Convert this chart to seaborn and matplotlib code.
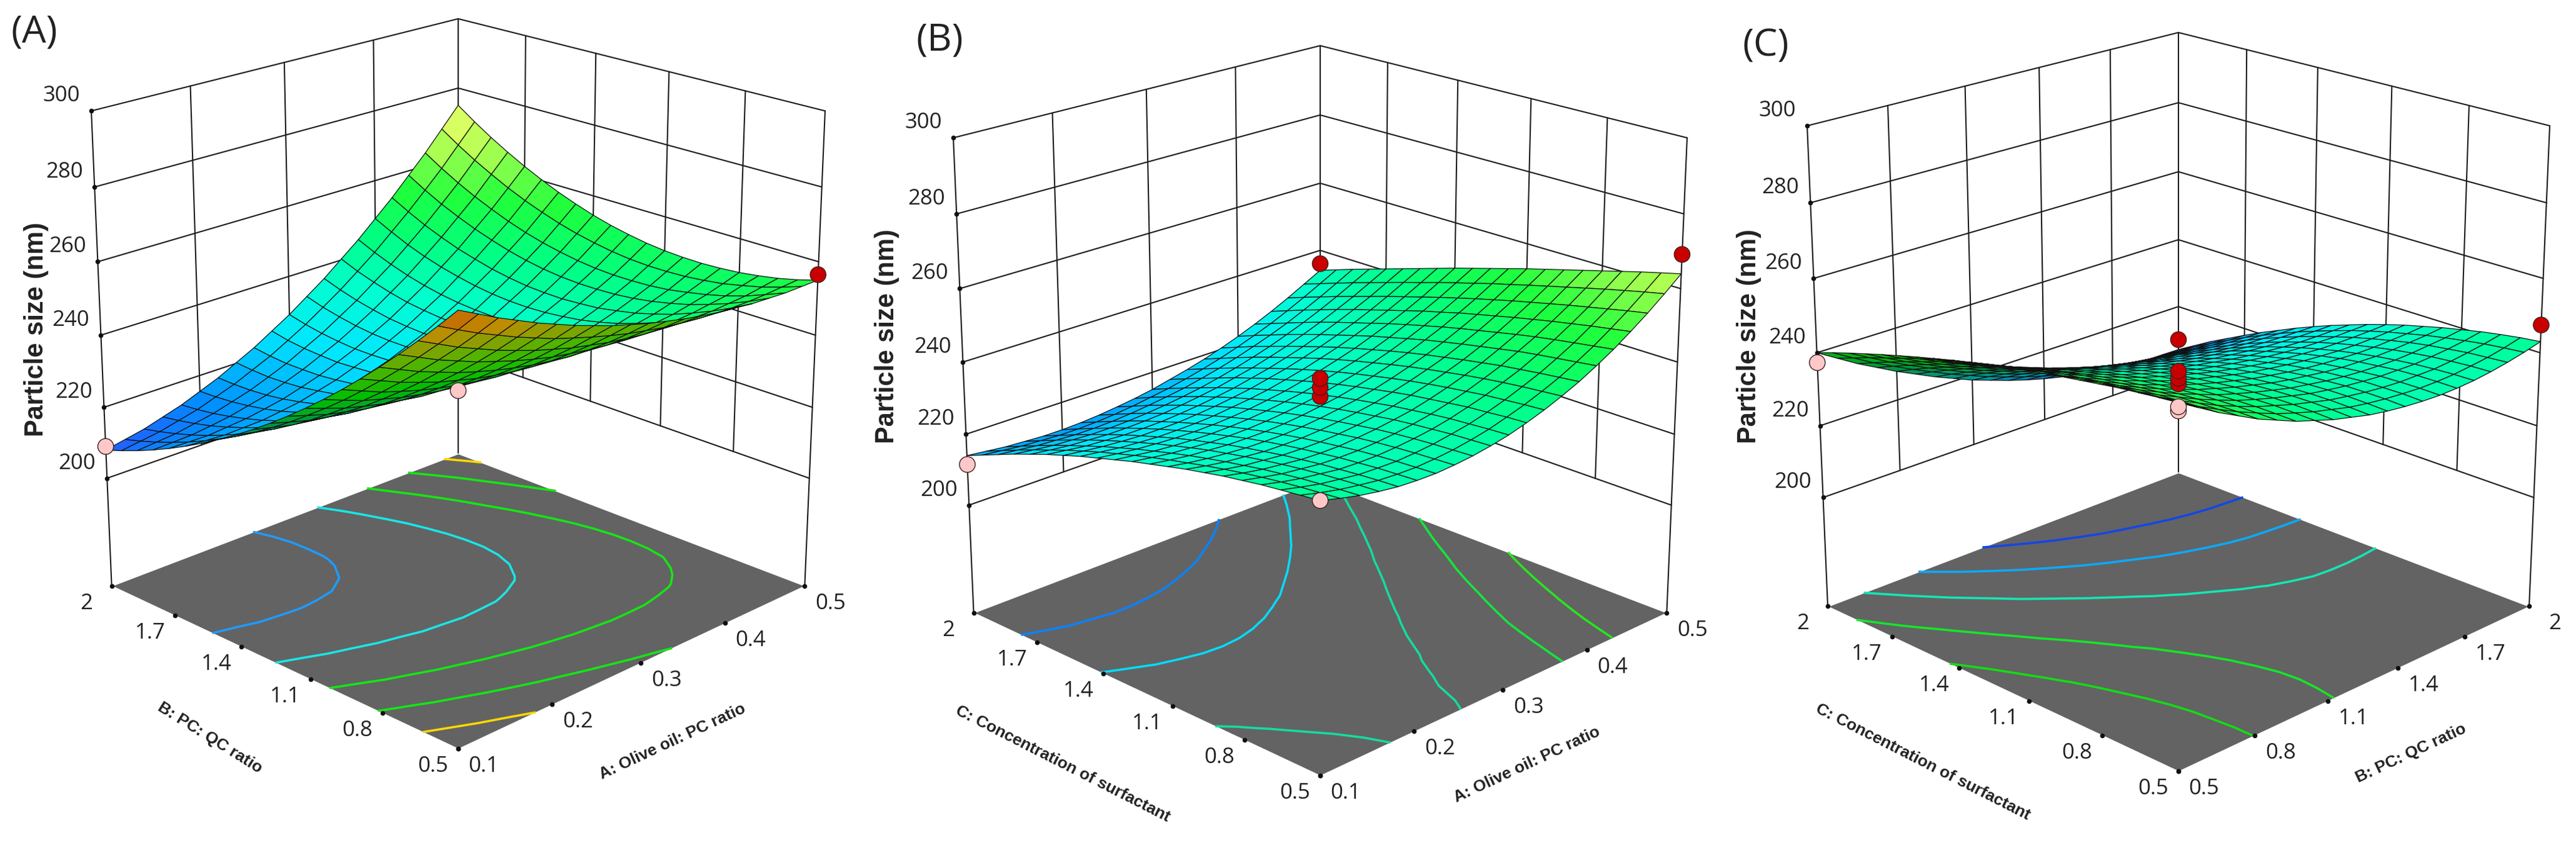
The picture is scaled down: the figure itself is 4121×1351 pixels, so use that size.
import numpy as np
import matplotlib
matplotlib.use('Agg')
import matplotlib.pyplot as plt
import seaborn as sns
from mpl_toolkits.mplot3d import proj3d

sns.set_theme(style='white')
plt.rcParams['font.family'] = ['Open Sans', 'DejaVu Sans']

W, H = 4121, 1351

# factor levels of the mesh
oil_levels = [0.1, 0.12, 0.14, 0.16, 0.18, 0.2, 0.22, 0.24, 0.26, 0.28, 0.3,
              0.32, 0.34, 0.36, 0.38, 0.4, 0.42, 0.44, 0.46, 0.48, 0.5]
ratio_levels = [0.5, 0.575, 0.65, 0.725, 0.8, 0.875, 0.95, 1.025, 1.1, 1.175, 1.25,
                1.325, 1.4, 1.475, 1.55, 1.625, 1.7, 1.775, 1.85, 1.925, 2.0]

oil_ticks = [0.1, 0.2, 0.3, 0.4, 0.5]
ratio_ticks = [0.5, 0.8, 1.1, 1.4, 1.7, 2.0]
ratio_tick_labels = ['0.5', '0.8', '1.1', '1.4', '1.7', '2']
size_ticks = [200, 220, 240, 260, 280, 300]

size_a = [
    [280.0, 274.5, 269.2, 264.1, 259.2, 254.5, 250.0, 245.7, 241.6, 237.7, 234.0, 230.5, 227.2, 224.1, 221.2, 218.5, 216.0, 213.7, 211.6, 209.7, 208.0],
    [277.4, 271.9, 266.7, 261.7, 256.9, 252.3, 247.9, 243.7, 239.8, 236.1, 232.5, 229.2, 226.1, 223.2, 220.6, 218.1, 215.9, 213.9, 212.1, 210.5, 209.1],
    [274.8, 269.4, 264.2, 259.3, 254.6, 250.1, 245.8, 241.8, 238.0, 234.5, 231.1, 228.0, 225.1, 222.4, 220.0, 217.8, 215.8, 214.1, 212.6, 211.3, 210.2],
    [272.5, 267.2, 262.1, 257.3, 252.7, 248.3, 244.2, 240.4, 236.7, 233.4, 230.2, 227.3, 224.6, 222.1, 219.9, 218.0, 216.3, 214.8, 213.6, 212.6, 211.8],
    [270.2, 265.0, 260.0, 255.3, 250.8, 246.6, 242.7, 239.0, 235.5, 232.3, 229.3, 226.6, 224.1, 221.9, 219.9, 218.2, 216.8, 215.6, 214.6, 213.9, 213.4],
    [268.2, 263.1, 258.2, 253.7, 249.3, 245.3, 241.5, 238.0, 234.7, 231.7, 228.9, 226.4, 224.1, 222.1, 220.4, 218.9, 217.7, 216.8, 216.1, 215.7, 215.5],
    [266.2, 261.2, 256.5, 252.1, 247.9, 244.0, 240.4, 237.1, 233.9, 231.1, 228.5, 226.3, 224.2, 222.4, 220.9, 219.7, 218.7, 218.0, 217.6, 217.5, 217.6],
    [264.5, 259.7, 255.1, 250.8, 246.8, 243.1, 239.7, 236.5, 233.6, 231.0, 228.6, 226.6, 224.7, 223.2, 221.9, 221.0, 220.2, 219.8, 219.6, 219.8, 220.2],
    [262.8, 258.2, 253.7, 249.6, 245.8, 242.3, 239.0, 236.0, 233.3, 230.9, 228.7, 226.9, 225.3, 224.1, 223.0, 222.3, 221.8, 221.7, 221.7, 222.1, 222.8],
    [261.4, 256.9, 252.7, 248.8, 245.1, 241.8, 238.7, 235.9, 233.5, 231.3, 229.3, 227.7, 226.4, 225.4, 224.5, 224.1, 223.8, 224.0, 224.3, 224.9, 225.9],
    [260.0, 255.7, 251.7, 248.0, 244.5, 241.4, 238.5, 235.9, 233.7, 231.7, 230.0, 228.6, 227.5, 226.7, 226.1, 225.9, 225.9, 226.3, 226.9, 227.8, 229.0],
    [258.9, 254.8, 251.0, 247.5, 244.3, 241.4, 238.7, 236.4, 234.4, 232.6, 231.1, 230.0, 229.1, 228.5, 228.2, 228.2, 228.5, 229.1, 230.0, 231.1, 232.6],
    [257.8, 253.9, 250.4, 247.1, 244.1, 241.4, 239.0, 236.9, 235.1, 233.6, 232.3, 231.4, 230.7, 230.4, 230.3, 230.6, 231.1, 232.0, 233.1, 234.5, 236.2],
    [257.0, 253.4, 250.1, 247.0, 244.3, 241.8, 239.7, 237.8, 236.3, 235.0, 234.0, 233.3, 232.9, 232.8, 233.0, 233.5, 234.2, 235.3, 236.7, 238.3, 240.3],
    [256.2, 252.9, 249.8, 247.0, 244.5, 242.3, 240.4, 238.8, 237.5, 236.4, 235.7, 235.3, 235.1, 235.3, 235.7, 236.4, 237.4, 238.7, 240.3, 242.2, 244.4],
    [255.7, 252.6, 249.9, 247.3, 245.1, 243.2, 241.5, 240.2, 239.1, 238.4, 237.9, 237.7, 237.8, 238.2, 238.9, 239.9, 241.1, 242.6, 244.4, 246.6, 249.0],
    [255.2, 252.4, 249.9, 247.7, 245.7, 244.1, 242.7, 241.7, 240.8, 240.4, 240.1, 240.2, 240.5, 241.2, 242.1, 243.4, 244.8, 246.6, 248.6, 251.0, 253.6],
    [255.0, 252.5, 250.3, 248.4, 246.7, 245.4, 244.3, 243.5, 243.0, 242.8, 242.8, 243.1, 243.7, 244.6, 245.8, 247.3, 249.0, 251.0, 253.2, 255.8, 258.7],
    [254.8, 252.7, 250.7, 249.1, 247.8, 246.8, 245.9, 245.4, 245.2, 245.2, 245.5, 246.1, 247.0, 248.1, 249.5, 251.2, 253.2, 255.4, 257.9, 260.7, 263.8],
    [254.9, 253.1, 251.5, 250.3, 249.2, 248.5, 248.0, 247.8, 247.8, 248.1, 248.7, 249.6, 250.7, 252.1, 253.8, 255.7, 257.9, 260.4, 263.1, 266.1, 269.4],
    [255.0, 253.5, 252.3, 251.4, 250.7, 250.3, 250.1, 250.2, 250.5, 251.1, 252.0, 253.1, 254.5, 256.2, 258.1, 260.3, 262.7, 265.4, 268.3, 271.5, 275.0],
]
size_b = [
    [240.0, 239.4, 238.8, 238.2, 237.4, 236.6, 235.6, 234.6, 233.4, 232.2, 231.0, 229.6, 228.2, 226.8, 225.2, 223.6, 221.8, 220.0, 218.0, 216.0, 214.0],
    [238.6, 238.1, 237.6, 237.0, 236.3, 235.5, 234.6, 233.6, 232.5, 231.4, 230.2, 228.9, 227.5, 226.1, 224.5, 222.9, 221.1, 219.3, 217.4, 215.4, 213.4],
    [237.4, 237.0, 236.5, 236.0, 235.3, 234.6, 233.7, 232.8, 231.8, 230.7, 229.5, 228.2, 226.9, 225.4, 223.9, 222.2, 220.5, 218.7, 216.8, 214.8, 212.8],
    [236.5, 236.2, 235.8, 235.3, 234.7, 234.0, 233.2, 232.3, 231.3, 230.3, 229.1, 227.8, 226.5, 225.0, 223.5, 221.9, 220.2, 218.4, 216.5, 214.5, 212.5],
    [235.8, 235.5, 235.1, 234.6, 234.1, 233.4, 232.7, 231.8, 230.9, 229.9, 228.7, 227.5, 226.2, 224.7, 223.2, 221.6, 219.9, 218.1, 216.2, 214.2, 212.2],
    [235.5, 235.2, 234.9, 234.4, 233.9, 233.2, 232.5, 231.7, 230.8, 229.8, 228.6, 227.4, 226.1, 224.7, 223.2, 221.6, 219.9, 218.1, 216.2, 214.2, 212.2],
    [235.4, 235.1, 234.8, 234.4, 233.9, 233.2, 232.5, 231.7, 230.8, 229.8, 228.7, 227.5, 226.2, 224.8, 223.3, 221.7, 220.1, 218.3, 216.4, 214.4, 212.4],
    [235.7, 235.4, 235.1, 234.7, 234.2, 233.6, 232.8, 232.0, 231.1, 230.1, 229.0, 227.8, 226.5, 225.1, 223.7, 222.1, 220.4, 218.7, 216.8, 214.8, 212.8],
    [236.2, 235.9, 235.6, 235.2, 234.7, 234.1, 233.3, 232.5, 231.6, 230.6, 229.5, 228.3, 227.0, 225.7, 224.2, 222.6, 221.0, 219.2, 217.4, 215.4, 213.4],
    [237.0, 236.7, 236.4, 235.9, 235.4, 234.8, 234.0, 233.2, 232.3, 231.3, 230.2, 229.0, 227.7, 226.3, 224.9, 223.3, 221.7, 219.9, 218.1, 216.2, 214.1],
    [238.0, 237.7, 237.3, 236.9, 236.3, 235.6, 234.9, 234.0, 233.1, 232.1, 231.0, 229.8, 228.5, 227.1, 225.7, 224.1, 222.5, 220.7, 218.9, 217.0, 215.0],
    [239.4, 239.1, 238.6, 238.2, 237.5, 236.8, 236.1, 235.2, 234.2, 233.2, 232.1, 230.9, 229.6, 228.2, 226.8, 225.2, 223.6, 221.8, 220.0, 218.1, 216.2],
    [241.0, 240.6, 240.1, 239.6, 238.9, 238.2, 237.4, 236.5, 235.5, 234.4, 233.3, 232.1, 230.8, 229.4, 227.9, 226.3, 224.7, 223.0, 221.2, 219.3, 217.4],
    [242.9, 242.4, 241.9, 241.3, 240.6, 239.8, 238.9, 238.0, 237.0, 235.9, 234.7, 233.5, 232.2, 230.8, 229.3, 227.7, 226.1, 224.4, 222.6, 220.7, 218.8],
    [245.0, 244.4, 243.8, 243.1, 242.4, 241.5, 240.6, 239.6, 238.6, 237.5, 236.3, 235.0, 233.7, 232.3, 230.8, 229.2, 227.6, 225.9, 224.2, 222.3, 220.4],
    [247.5, 246.8, 246.1, 245.4, 244.6, 243.6, 242.6, 241.6, 240.5, 239.4, 238.1, 236.8, 235.5, 234.0, 232.5, 231.0, 229.4, 227.7, 225.9, 224.1, 222.2],
    [250.2, 249.4, 248.6, 247.8, 246.9, 245.9, 244.8, 243.7, 242.6, 241.4, 240.1, 238.8, 237.4, 235.9, 234.4, 232.9, 231.3, 229.6, 227.8, 226.0, 224.2],
    [253.3, 252.4, 251.5, 250.5, 249.5, 248.4, 247.3, 246.1, 244.9, 243.7, 242.3, 241.0, 239.5, 238.0, 236.5, 235.0, 233.4, 231.7, 230.0, 228.2, 226.4],
    [256.6, 255.6, 254.5, 253.4, 252.3, 251.1, 249.9, 248.7, 247.4, 246.1, 244.7, 243.3, 241.8, 240.3, 238.8, 237.2, 235.6, 234.0, 232.3, 230.6, 228.8],
    [260.2, 259.1, 257.9, 256.7, 255.4, 254.1, 252.8, 251.5, 250.1, 248.8, 247.3, 245.9, 244.4, 242.8, 241.3, 239.7, 238.1, 236.5, 234.8, 233.1, 231.4],
    [264.0, 262.7, 261.4, 260.0, 258.6, 257.2, 255.8, 254.4, 253.0, 251.5, 250.0, 248.5, 247.0, 245.4, 243.8, 242.2, 240.6, 239.0, 237.4, 235.7, 234.0],
]
size_c = [
    [262.0, 261.5, 260.9, 260.3, 259.5, 258.7, 257.9, 257.0, 256.1, 255.1, 254.0, 252.9, 251.7, 250.4, 249.1, 247.7, 246.3, 244.8, 243.3, 241.7, 240.0],
    [259.0, 258.6, 258.1, 257.6, 257.0, 256.3, 255.5, 254.6, 253.8, 252.8, 251.7, 250.6, 249.3, 248.0, 246.6, 245.2, 243.6, 242.0, 240.4, 238.6, 236.8],
    [256.0, 255.7, 255.4, 255.0, 254.5, 253.8, 253.1, 252.3, 251.5, 250.5, 249.4, 248.3, 247.0, 245.6, 244.2, 242.7, 241.0, 239.3, 237.5, 235.6, 233.6],
    [253.4, 253.2, 253.0, 252.7, 252.2, 251.6, 250.9, 250.2, 249.4, 248.4, 247.3, 246.1, 244.8, 243.4, 241.9, 240.4, 238.6, 236.8, 234.9, 232.9, 230.8],
    [250.8, 250.8, 250.6, 250.4, 250.0, 249.5, 248.8, 248.1, 247.3, 246.3, 245.2, 244.0, 242.7, 241.3, 239.7, 238.1, 236.3, 234.4, 232.4, 230.3, 228.0],
    [248.7, 248.7, 248.6, 248.4, 248.1, 247.6, 247.0, 246.3, 245.5, 244.5, 243.4, 242.2, 240.8, 239.4, 237.7, 236.0, 234.2, 232.2, 230.1, 227.9, 225.5],
    [246.6, 246.7, 246.7, 246.5, 246.2, 245.8, 245.2, 244.5, 243.7, 242.7, 241.6, 240.4, 239.0, 237.5, 235.8, 234.0, 232.1, 230.0, 227.8, 225.5, 223.0],
    [245.0, 245.1, 245.2, 245.0, 244.7, 244.3, 243.7, 243.0, 242.2, 241.2, 240.1, 238.8, 237.4, 235.8, 234.1, 232.2, 230.2, 228.1, 225.8, 223.4, 220.8],
    [243.4, 243.6, 243.7, 243.6, 243.3, 242.9, 242.3, 241.6, 240.8, 239.8, 238.6, 237.3, 235.8, 234.2, 232.4, 230.5, 228.4, 226.2, 223.8, 221.3, 218.6],
    [242.2, 242.4, 242.5, 242.4, 242.1, 241.7, 241.1, 240.4, 239.5, 238.5, 237.3, 235.9, 234.4, 232.8, 230.9, 229.0, 226.8, 224.6, 222.1, 219.5, 216.8],
    [241.0, 241.2, 241.3, 241.2, 240.9, 240.5, 239.9, 239.2, 238.3, 237.2, 236.0, 234.6, 233.1, 231.4, 229.5, 227.5, 225.3, 223.0, 220.5, 217.8, 215.0],
    [240.2, 240.4, 240.5, 240.4, 240.1, 239.6, 239.0, 238.2, 237.3, 236.2, 234.9, 233.5, 231.9, 230.2, 228.3, 226.2, 224.0, 221.6, 219.0, 216.3, 213.4],
    [239.6, 239.8, 239.8, 239.7, 239.3, 238.9, 238.2, 237.4, 236.4, 235.3, 234.0, 232.5, 230.9, 229.1, 227.2, 225.1, 222.8, 220.3, 217.7, 214.9, 212.0],
    [239.2, 239.4, 239.3, 239.2, 238.7, 238.2, 237.5, 236.7, 235.6, 234.5, 233.1, 231.6, 229.9, 228.1, 226.1, 224.0, 221.7, 219.2, 216.5, 213.7, 210.8],
    [239.0, 239.1, 239.0, 238.8, 238.3, 237.7, 237.0, 236.1, 235.0, 233.8, 232.4, 230.9, 229.2, 227.3, 225.3, 223.1, 220.8, 218.3, 215.6, 212.8, 209.8],
    [239.1, 239.1, 239.0, 238.7, 238.1, 237.5, 236.7, 235.7, 234.6, 233.3, 231.9, 230.3, 228.6, 226.6, 224.6, 222.4, 220.0, 217.5, 214.8, 211.9, 208.9],
    [239.4, 239.3, 239.0, 238.6, 238.0, 237.3, 236.4, 235.4, 234.2, 232.9, 231.4, 229.8, 228.0, 226.0, 223.9, 221.7, 219.3, 216.8, 214.1, 211.2, 208.2],
    [240.0, 239.8, 239.4, 238.9, 238.2, 237.4, 236.4, 235.3, 234.1, 232.7, 231.1, 229.5, 227.6, 225.6, 223.4, 221.2, 218.8, 216.2, 213.5, 210.6, 207.6],
    [240.8, 240.4, 240.0, 239.3, 238.6, 237.7, 236.6, 235.4, 234.1, 232.6, 231.0, 229.3, 227.4, 225.4, 223.2, 220.9, 218.4, 215.8, 213.1, 210.2, 207.2],
    [241.8, 241.3, 240.7, 239.9, 239.0, 238.0, 236.8, 235.6, 234.2, 232.7, 231.0, 229.2, 227.3, 225.2, 223.0, 220.7, 218.2, 215.6, 212.9, 210.0, 207.1],
    [243.0, 242.4, 241.6, 240.7, 239.6, 238.5, 237.2, 235.9, 234.4, 232.8, 231.0, 229.2, 227.2, 225.1, 222.8, 220.5, 218.0, 215.4, 212.8, 209.9, 207.0],
]

# design points: x, y, size, above the surface or not
points_a_x = [0.1, 0.5, 0.1]
points_a_y = [2.0, 0.5, 0.5]
points_a_z = [209.0, 256.5, 260.5]
points_a_above = [False, True, False]

points_b_x = [0.1, 0.5, 0.5, 0.1, 0.3, 0.3, 0.3]
points_b_y = [2.0, 0.5, 2.0, 0.5, 1.25, 1.25, 1.25]
points_b_z = [211.5, 269.2, 236.0, 240.0, 235.5, 233.0, 230.5]
points_b_above = [False, True, True, False, True, True, True]

points_c_x = [0.5, 2.0, 2.0, 0.5, 0.5, 1.25, 1.25, 1.25]
points_c_y = [2.0, 0.5, 2.0, 0.5, 0.5, 1.25, 1.25, 1.25]
points_c_z = [237.3, 247.5, 210.0, 261.0, 260.0, 235.0, 233.0, 231.5]
points_c_above = [False, True, True, False, False, True, True, True]

levels_a = [222, 234, 246, 258, 270]
levels_b = [220, 228, 236, 244, 252]
levels_c = [218, 226, 234, 243, 251]
contour_colors_a = ['#1e9bff', '#19e6e6', '#14e614', '#14e614', '#ffd700']
contour_colors_b = ['#0a82ff', '#00dcff', '#14dca0', '#14e63c', '#28e61e']
contour_colors_c = ['#1446e6', '#0aaaff', '#14e6b4', '#14e628', '#14dc14']

FLOOR = 169
SIZE_MIN, SIZE_MAX = 205, 285

top_cmap = sns.blend_palette(['#3246ff', '#0090ff', '#00e6ff', '#00ffd0', '#00ff82',
                              '#1eff3c', '#a8ff50', '#ffff6e', '#ffdc3c'], as_cmap=True)
under_cmap = sns.blend_palette(['#003cc8', '#0096aa', '#00963c', '#00be00',
                                '#50b400', '#c08c00', '#c83c00'], as_cmap=True)


def place(ax, cx, top, bottom, xlim, ylim):
    # move and scale the square axes so the box lands on the wanted pixels
    side = 1200.0
    ax.set_position([0.1, 0.1, side / W, side / H])
    ax.apply_aspect()
    M = ax.get_proj()
    x0, y0, _ = proj3d.proj_transform(xlim[0], ylim[0], FLOOR, M)
    x1, y1, _ = proj3d.proj_transform(xlim[1], ylim[1], 300, M)
    p0 = ax.transData.transform((x0, y0))
    p1 = ax.transData.transform((x1, y1))
    scale = (bottom - top) / (p1[1] - p0[1])
    ox = (p0[0] - 0.1 * W) * scale
    oy = (p0[1] - 0.1 * H) * scale
    side = side * scale
    ax.set_position([(cx - ox) / W, (H - bottom - oy) / H, side / W, side / H])
    ax.apply_aspect()


def project(ax, x, y, z):
    px, py, _ = proj3d.proj_transform(x, y, z, ax.get_proj())
    return px, py


def draw_panel(fig, x_levels, y_levels, x_ticks, x_labels, y_ticks, y_labels, sizes,
               px, py, pz, above, levels, contour_colors, cx, top, bottom, shift):
    ax = fig.add_axes([0.1, 0.1, 0.3, 0.9], projection='3d', computed_zorder=False)
    xmin, xmax = x_levels[0], x_levels[-1]
    ymin, ymax = y_levels[0], y_levels[-1]
    ax.set_xlim(xmin, xmax)
    ax.set_ylim(ymin, ymax)
    ax.set_zlim(FLOOR, 300)
    ax.set_box_aspect((1, 1, 1.005))
    ax.set_proj_type('persp', focal_length=0.68)
    ax.view_init(elev=20.6, azim=-135)
    ax.set_axis_off()
    place(ax, cx, top, bottom, (xmin, xmax), (ymin, ymax))

    wall = dict(color='#1c1c1c', lw=1.5, zorder=1)
    # back walls
    for z in size_ticks:
        ax.plot([xmin, xmax], [ymax, ymax], [z, z], **wall)
        ax.plot([xmax, xmax], [ymax, ymin], [z, z], **wall)
    for x in x_ticks[1:-1]:
        ax.plot([x, x], [ymax, ymax], [200, 300], **wall)
    for y in y_ticks[1:-1]:
        ax.plot([xmax, xmax], [y, y], [200, 300], **wall)
    ax.plot([xmin, xmin], [ymax, ymax], [FLOOR, 300], **wall)
    ax.plot([xmax, xmax], [ymax, ymax], [FLOOR, 300], **wall)
    ax.plot([xmax, xmax], [ymin, ymin], [FLOOR, 300], **wall)

    # floor and contours
    fx, fy = np.meshgrid([xmin, xmax], [ymin, ymax], indexing='ij')
    ax.plot_surface(fx, fy, np.full(fx.shape, float(FLOOR)), color='#636363', shade=False, zorder=2)
    X, Y = np.meshgrid(x_levels, y_levels, indexing='ij')
    Z = np.array(sizes)
    ax.contour(X, Y, Z, levels=levels, colors=contour_colors, zdir='z', offset=FLOOR,
               linewidths=2.6, zorder=3)

    # surface, the underside gets its own colours
    sx, sy = project(ax, X.ravel(), Y.ravel(), Z.ravel())
    sx = np.array(sx).reshape(X.shape)
    sy = np.array(sy).reshape(X.shape)
    cols = np.ones(X.shape + (4,))
    for i in range(X.shape[0] - 1):
        for j in range(X.shape[1] - 1):
            qx = [sx[i, j], sx[i + 1, j], sx[i + 1, j + 1], sx[i, j + 1]]
            qy = [sy[i, j], sy[i + 1, j], sy[i + 1, j + 1], sy[i, j + 1]]
            area = sum(qx[k] * qy[(k + 1) % 4] - qx[(k + 1) % 4] * qy[k] for k in range(4))
            v = (Z[i:i + 2, j:j + 2].mean() + shift - SIZE_MIN) / (SIZE_MAX - SIZE_MIN)
            cols[i, j] = top_cmap(v) if area > 0 else under_cmap(v)
    ax.plot_surface(X, Y, Z, facecolors=cols, rstride=1, cstride=1, shade=False,
                    edgecolor='#101010', linewidth=0.9, zorder=4)

    # design points
    pt_colors = ['#c80000' if a else '#ffc8c8' for a in above]
    ax.scatter(px, py, pz, s=330, c=pt_colors, edgecolors='#3a2020', linewidths=1.0,
               depthshade=False, zorder=6)

    # tick dots and labels
    dot = dict(s=20, c='#101010', depthshade=False, zorder=5)
    ax.scatter([xmin] * len(size_ticks), [ymax] * len(size_ticks), size_ticks, **dot)
    ax.scatter(x_ticks, [ymin] * len(x_ticks), [FLOOR] * len(x_ticks), **dot)
    ax.scatter([xmin] * len(y_ticks), y_ticks, [FLOOR] * len(y_ticks), **dot)

    lab = dict(textcoords='offset pixels', ha='center', va='center', fontsize=25,
               color='#222222', annotation_clip=False)
    for z in size_ticks:
        ax.annotate(str(z), project(ax, xmin, ymax, z), xytext=(-48, 24), **lab)
    for x, t in zip(x_ticks, x_labels):
        ax.annotate(t, project(ax, x, ymin, FLOOR), xytext=(41, -28), **lab)
    for y, t in zip(y_ticks, y_labels):
        ax.annotate(t, project(ax, xmin, y, FLOOR), xytext=(-40, -28), **lab)
    return ax


fig = plt.figure(figsize=(W / 100, H / 100), dpi=100, facecolor='white')

oil_labels = [str(t) for t in oil_ticks]
draw_panel(fig, oil_levels, ratio_levels, oil_ticks, oil_labels, ratio_ticks, ratio_tick_labels, size_a,
           points_a_x, points_a_y, points_a_z, points_a_above, levels_a, contour_colors_a, 733, 30, 1197, 0)
draw_panel(fig, oil_levels, ratio_levels, oil_ticks, oil_labels, ratio_ticks, ratio_tick_labels, size_b,
           points_b_x, points_b_y, points_b_z, points_b_above, levels_b, contour_colors_b, 2112, 73, 1240, 4)
draw_panel(fig, ratio_levels, ratio_levels, ratio_ticks, ratio_tick_labels, ratio_ticks, ratio_tick_labels, size_c,
           points_c_x, points_c_y, points_c_z, points_c_above, levels_c, contour_colors_c, 3485, 52, 1233, 0)


def label(x, y, text, **kw):
    fig.text(x / W, 1 - y / H, text, **kw)


common = dict(ha='center', va='center', rotation_mode='anchor', fontweight='bold',
              color='#222222', family=['Liberation Sans', 'DejaVu Sans'])
# panel letters
label(17, 52, '(A)', fontsize=44, va='center', color='#222222')
label(1466, 65, '(B)', fontsize=44, va='center', color='#222222')
label(2787, 73, '(C)', fontsize=44, va='center', color='#222222')
# size axis
label(58, 527, 'Particle size (nm)', rotation=90, fontsize=30, **common)
label(1419, 538, 'Particle size (nm)', rotation=90, fontsize=30, **common)
label(2798, 538, 'Particle size (nm)', rotation=90, fontsize=30, **common)
# floor axes
label(1076, 1186, 'A: Olive oil: PC ratio', rotation=25, fontsize=19, **common)
label(336, 1180, 'B: PC: QC ratio', rotation=-32, fontsize=19, **common)
label(2443, 1223, 'A: Olive oil: PC ratio', rotation=25, fontsize=19, **common)
label(1700, 1221, 'C: Concentration of surfactant', rotation=-27, fontsize=19, **common)
label(3857, 1205, 'B: PC: QC ratio', rotation=25, fontsize=19, **common)
label(3076, 1218, 'C: Concentration of surfactant', rotation=-27, fontsize=19, **common)

fig.savefig('out.png', dpi=100)
